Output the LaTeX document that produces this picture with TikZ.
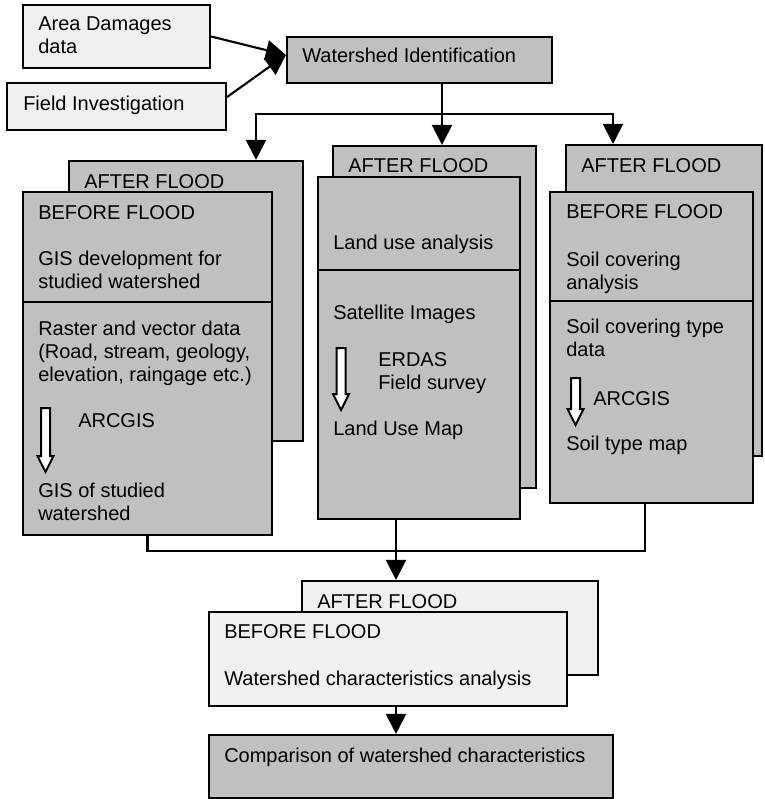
\documentclass[tikz,border=0pt]{standalone}
\usepackage{fontspec}
\setmainfont{Liberation Sans}
\usetikzlibrary{arrows.meta,fit}

\definecolor{boxgray}{RGB}{192,192,192}
\definecolor{boxlight}{RGB}{240,240,240}

\tikzset{
  box/.style={draw, line width=1.6pt, inner sep=0pt},
  graybox/.style={box, fill=boxgray},
  lightbox/.style={box, fill=boxlight},
  % multi-line texts sit on the baseline of their last line
  txt/.style={anchor=base west, inner sep=0pt, align=left, font=\fontsize{15}{17.25}\selectfont},
  link/.style={line width=1.6pt},
  arrow/.style={line width=1.6pt, -{Triangle[length=15pt,width=15pt]}},
  hollow/.style={draw, line width=1.5pt, fill=white, line join=miter},
}

% white block arrow: x, top, tip
\newcommand{\blockarrow}[3]{%
  \draw[hollow] (#1-4.5,#2) -- (#1+4.5,#2) -- (#1+4.5,#3-16) -- (#1+8,#3-16)
    -- (#1,#3) -- (#1-8,#3-16) -- (#1-4.5,#3-16) -- cycle;}

\begin{document}
\begin{tikzpicture}[x=0.75pt,y=-0.75pt]
  \useasboundingbox (0,0) rectangle (764,799);

  % inputs and identification
  \node[lightbox, fit={(23,5)(210,68)}] (damage) {};
  \node[lightbox, fit={(7,83)(226,130)}] (field) {};
  \node[graybox, fit={(287,37)(552,83)}] (ident) {};
  \node[txt] (damagetxt) at (38,54) {Area Damages\\data};
  \node[txt] (fieldtxt) at (23,110) {Field Investigation};
  \node[txt] (identtxt) at (302,63) {Watershed Identification};

  % left column: GIS
  \node[graybox, fit={(69,161)(303,441)}] (leftback) {};
  \node[txt] (leftafter) at (84,188) {AFTER FLOOD};
  \node[graybox, fit={(23,192)(272,535)}] (leftfront) {};
  \draw[link] (leftfront.west |- 0,302) -- (leftfront.east |- 0,302);
  \node[txt] (leftbefore) at (38,219) {BEFORE FLOOD};
  \node[txt] (gisdev) at (38,288) {GIS development for\\studied watershed};
  \node[txt] (raster) at (38,381) {Raster and vector data\\(Road, stream, geology,\\elevation, raingage etc.)};
  \node[txt] (leftsoft) at (78,427) {ARCGIS};
  \node[txt] (gisout) at (38,520) {GIS of studied\\watershed};
  \blockarrow{45.5}{408}{472}

  % middle column: land use
  \node[graybox, fit={(333,146)(536,488)}] (midback) {};
  \node[txt] (midafter) at (348,172) {AFTER FLOOD};
  \node[graybox, fit={(318,177)(520,519)}] (midfront) {};
  \draw[link] (midfront.west |- 0,270) -- (midfront.east |- 0,270);
  \node[txt] (landuse) at (333,249) {Land use analysis};
  \node[txt] (satellite) at (333,319) {Satellite Images};
  \node[txt] (midsoft) at (378,389) {ERDAS\\Field survey};
  \node[txt] (landmap) at (333,435) {Land Use Map};
  \blockarrow{341}{348}{410}

  % right column: soil
  \node[graybox, fit={(566,145)(762,456)}] (rightback) {};
  \node[txt] (rightafter) at (581,172) {AFTER FLOOD};
  \node[graybox, fit={(550,192)(753,503)}] (rightfront) {};
  \draw[link] (rightfront.west |- 0,301) -- (rightfront.east |- 0,301);
  \node[txt] (rightbefore) at (566,218) {BEFORE FLOOD};
  \node[txt] (soilcover) at (566,289) {Soil covering\\analysis};
  \node[txt] (soildata) at (566,356) {Soil covering type\\data};
  \node[txt] (rightsoft) at (593,405) {ARCGIS};
  \node[txt] (soilmap) at (566,450) {Soil type map};
  \blockarrow{575.5}{378}{425}

  % characteristics
  \node[lightbox, fit={(302,581)(598,675)}] (botback) {};
  \node[txt] (botafter) at (317,608) {AFTER FLOOD};
  \node[lightbox, fit={(209,612)(567,706)}] (botfront) {};
  \node[txt] (botbefore) at (224,638) {BEFORE FLOOD};
  \node[txt] (charac) at (224,685) {Watershed characteristics analysis};
  \node[graybox, fit={(209,735)(613,798)}] (compare) {};
  \node[txt] (comparetxt) at (224,762) {Comparison of watershed characteristics};

  % connectors
  \draw[arrow] (damage.east) -- (ident.west |- 0,55);
  \draw[arrow] (field.east |- 0,97) -- (ident.west |- 0,55);
  \coordinate (split) at (442,114);
  \draw[link] (ident.south -| split) -- (split);
  \draw[arrow] (split) -- (midback.north -| split);
  \draw[arrow] (split) -| (leftback.north -| 256,0);
  \draw[arrow] (split) -| (rightback.north -| 613,0);
  \coordinate (join) at (396,551);
  \draw[link] (leftfront.south) |- (join) -| (rightfront.south -| 645,0);
  \draw[arrow] (midfront.south -| join) -- (botback.north -| join);
  \draw[arrow] (botfront.south -| join) -- (compare.north -| join);
\end{tikzpicture}
\end{document}
